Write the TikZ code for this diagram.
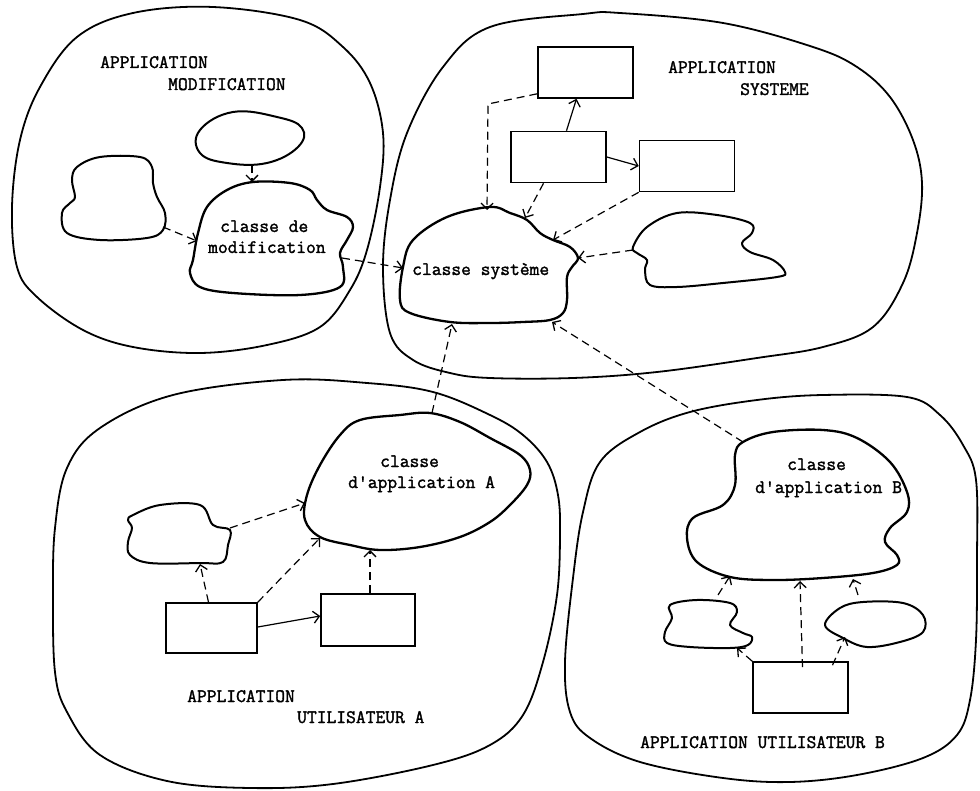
\documentclass[tikz,border=0pt]{standalone}
\usepackage{fontspec}
\newfontfamily\typew[FakeBold=1.6]{Latin Modern Mono}
\usetikzlibrary{arrows.meta}
\begin{document}
\begin{tikzpicture}[x=1pt,y=-1pt,
  region/.style={line width=1.8pt, line join=round},
  blob/.style={line width=2.3pt, line join=round},
  smallblob/.style={line width=2pt, line join=round},
  box/.style={draw, line width=1.6pt, rectangle, inner sep=0pt, minimum width=95pt, minimum height=51pt},
  link/.style={line width=1.2pt, -{Straight Barb[length=6pt,width=12pt,line width=1.3pt]}},
  dlink/.style={link, dash pattern=on 8pt off 5pt},
  lbl/.style={font=\typew\fontsize{19}{21}\selectfont, inner sep=0pt, anchor=base west}]

\fill[white] (0,0) rectangle (980,791);
\useasboundingbox (0,0) rectangle (980,791);

% ---------- the four applications ----------
\draw[region] plot[smooth cycle, tension=0.6] coordinates {
  (213,7) (300,20) (343,47) (370,83) (383,133) (380,187) (367,250) (350,290)
  (320,327) (267,345) (200,353) (133,347) (83,330) (37,297) (17,267) (12,207)
  (20,140) (40,87) (77,37) (133,13)};
\draw[region] plot[smooth cycle, tension=0.6] coordinates {
  (490,27) (583,14) (620,13) (723,23) (813,47) (857,67) (890,97) (913,140)
  (922,183) (917,233) (903,283) (873,327) (823,347) (757,358) (657,372)
  (573,378) (490,378) (450,373) (413,360) (390,333) (383,267) (390,200)
  (407,133) (443,67)};
\draw[region] plot[smooth cycle, tension=0.6] coordinates {
  (173,395) (283,380) (367,383) (433,392) (490,415) (523,435) (547,462)
  (558,495) (560,535) (557,595) (543,662) (523,715) (490,745) (433,765)
  (333,784) (250,788) (167,781) (100,755) (67,712) (55,672) (53,595)
  (55,528) (67,468) (100,428)};
\draw[region] plot[smooth cycle, tension=0.6] coordinates {
  (600,462) (640,432) (690,412) (757,400) (823,395) (907,397) (940,415)
  (963,445) (976,480) (977,560) (976,640) (970,700) (957,735) (923,758)
  (857,775) (790,782) (723,778) (640,762) (590,738) (570,712) (565,662)
  (573,578) (583,512)};

% ---------- application modification ----------
\draw[smallblob] plot[smooth cycle, tension=0.7] coordinates {
  (200,130) (233,112) (277,117) (302,128) (298,147) (267,163) (227,163) (200,153)};
\draw[smallblob] plot[smooth cycle, tension=0.6] coordinates {
  (77,167) (100,157) (140,157) (152,167) (153,183) (157,197) (165,213)
  (163,230) (147,238) (100,240) (67,233) (62,213) (70,203) (75,197) (72,180)};
\draw[blob] plot[smooth cycle, tension=0.6] coordinates {
  (253,182) (290,183) (310,190) (317,200) (327,210) (347,217) (353,227)
  (347,240) (340,253) (343,267) (340,287) (300,295) (233,293) (200,287)
  (190,273) (193,260) (198,233) (207,207) (227,190)};
\node[lbl] (tMa) at (100,68) {APPLICATION};
\node[lbl] (tMb) at (168,90) {MODIFICATION};
\node[lbl] (tMc) at (220,232) {classe de};
\node[lbl] (tMd) at (208,253) {modification};

\coordinate (mTop) at (252,165);
\coordinate (mTopIn) at (252,182);
\coordinate (mLeft) at (163,227);
\coordinate (mLeftIn) at (197,241);
\coordinate (mOut) at (342,258);

% ---------- application systeme ----------
\node[box] (sTop) at (585.5,72.5) {};
\node[box] (sMid) at (558.5,157) {};
\node[box] (sRight) at (687,166) {};
\draw[smallblob] plot[smooth cycle, tension=0.6] coordinates {
  (633,247) (647,227) (677,213) (717,215) (750,223) (752,233) (742,243)
  (750,252) (773,260) (785,272) (777,277) (723,283) (677,287) (650,285)
  (645,270) (647,260) (637,253)};
\draw[blob] plot[smooth cycle, tension=0.6] coordinates {
  (490,207) (510,213) (527,220) (540,233) (553,240) (570,247) (578,258)
  (572,267) (567,277) (567,300) (563,313) (550,320) (523,322) (490,323)
  (450,322) (410,313) (400,300) (403,267) (413,240) (447,217)};
\node[lbl] (tSa) at (668,73) {APPLICATION};
\node[lbl] (tSb) at (740,95) {SYSTEME};
\node[lbl] (tSc) at (412,275) {classe système};

\coordinate (sIn1) at (403,268);
\coordinate (sIn2) at (487,210);
\coordinate (sIn3) at (525,218);
\coordinate (sIn4) at (553,240);
\coordinate (sIn5) at (578,258);
\coordinate (sIn6) at (452,324);
\coordinate (sIn7) at (552,322);
\coordinate (sBend) at (488,104);
\coordinate (sWave) at (633,250);

% ---------- application utilisateur A ----------
\draw[smallblob] plot[smooth cycle, tension=0.6] coordinates {
  (133,515) (160,505) (200,505) (213,525) (230,530) (228,545) (223,562)
  (200,563) (150,563) (130,555) (128,542) (132,528) (128,520)};
\draw[blob] plot[smooth cycle, tension=0.6] coordinates {
  (430,413) (460,422) (490,438) (520,455) (530,470) (527,485) (510,505)
  (490,522) (460,537) (420,547) (380,550) (350,545) (320,537) (305,520)
  (307,495) (320,465) (340,435) (360,420) (400,415)};
\node[box, minimum width=91pt, minimum height=50pt] (aLeft) at (211.5,628) {};
\node[box, minimum width=94pt, minimum height=52pt] (aRight) at (368,620) {};
\node[lbl] (tAa) at (380,467) {classe};
\node[lbl] (tAb) at (348,488) {d'application A};
\node[lbl] (tAc) at (187,702) {APPLICATION};
\node[lbl] (tAd) at (297,723) {UTILISATEUR A};

\coordinate (aTop) at (432,413);
\coordinate (aBlob) at (230,528);
\coordinate (aBlobIn) at (200,564);
\coordinate (aIn1) at (305,503);
\coordinate (aIn2) at (320,538);
\coordinate (aIn3) at (370,550);

% ---------- application utilisateur B ----------
\draw[blob] plot[smooth cycle, tension=0.6] coordinates {
  (743,442) (773,432) (823,430) (857,438) (890,462) (907,492) (907,512)
  (890,528) (885,542) (897,555) (897,565) (873,573) (823,578) (773,580)
  (730,577) (697,562) (687,538) (693,518) (723,505) (735,485) (735,455)};
\draw[smallblob] plot[smooth cycle, tension=0.6] coordinates {
  (670,605) (697,600) (730,603) (737,612) (730,625) (743,633) (752,637)
  (748,645) (730,648) (690,647) (667,643) (665,632) (672,618)};
\draw[smallblob] plot[smooth cycle, tension=0.6] coordinates {
  (840,608) (863,602) (903,603) (923,615) (923,632) (900,642) (867,647)
  (843,638) (825,625)};
\node[box] (bBox) at (800.5,687.5) {};
\node[lbl] (tBa) at (787,470) {classe};
\node[lbl] (tBb) at (755,493) {d'application B};
\node[lbl] (tBc) at (640,748) {APPLICATION UTILISATEUR B};

\coordinate (bTop) at (743,442);
\coordinate (bLeftTop) at (718,595);
\coordinate (bIn1) at (730,576);
\coordinate (bIn2) at (800,581);
\coordinate (bRightTop) at (858,595);
\coordinate (bIn3) at (853,579);
\coordinate (bLeftIn) at (737,648);
\coordinate (bRightIn) at (845,637);

% ---------- connectors ----------
\draw[dlink] (mTop) -- (mTopIn);
\draw[dlink] (mLeft) -- (mLeftIn);
\draw[dlink] (mOut) -- (sIn1);

\draw[link] ([xshift=8pt]sMid.north) -- ([xshift=-9pt]sTop.south);
\draw[link] (sMid.east) -- (sRight.west);
\draw[dlink] ([yshift=5pt]sTop.south west) -- (sBend) -- (sIn2);
\draw[dlink] ([xshift=-15pt]sMid.south) -- (sIn3);
\draw[dlink] (sRight.south west) -- (sIn4);
\draw[dlink] (sWave) -- (sIn5);
\draw[dlink] (aTop) -- (sIn6);
\draw[dlink] (bTop) -- (sIn7);

\draw[dlink] (aBlob) -- (aIn1);
\draw[dlink] ([xshift=-3pt]aLeft.north) -- (aBlobIn);
\draw[dlink] (aLeft.north east) -- (aIn2);
\draw[dlink] ([xshift=2pt]aRight.north) -- (aIn3);
\draw[link] ([yshift=1pt]aLeft.east) -- ([yshift=4pt]aRight.west);

\draw[dlink] (bLeftTop) -- (bIn1);
\draw[dlink] ([xshift=2pt, yshift=-6pt]bBox.north) -- (bIn2);
\draw[dlink] (bRightTop) -- (bIn3);
\draw[dlink] (bBox.north west) -- (bLeftIn);
\draw[dlink] ([xshift=32pt, yshift=-4pt]bBox.north) -- (bRightIn);
\end{tikzpicture}
\end{document}
